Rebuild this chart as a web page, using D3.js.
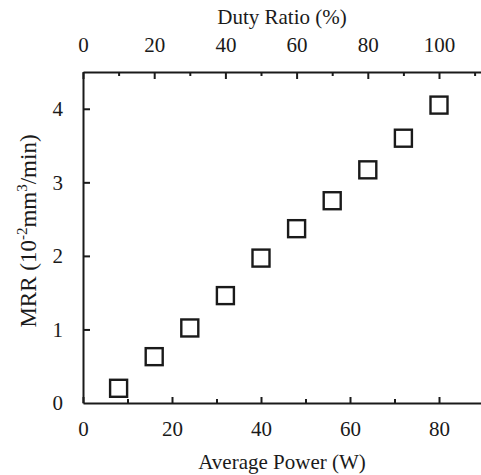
<!DOCTYPE html>
<html><head><meta charset="utf-8">
<script src="https://cdn.jsdelivr.net/npm/d3@7"></script>
<style>
html,body{margin:0;padding:0;background:#fff;}
svg{display:block;}
svg text{font-family:"Liberation Serif","DejaVu Serif",serif !important;}
</style></head>
<body><svg id="c" width="481" height="475"></svg>
<script>
const power = [8, 16, 24, 32, 40, 48, 56, 64, 72, 80];
const mrr = [0.20, 0.63, 1.02, 1.46, 1.97, 2.37, 2.75, 3.17, 3.60, 4.05];
const powerTicks = [0, 20, 40, 60, 80];
const powerMinor = [10, 30, 50, 70, 90];
const dutyTicks = [0, 20, 40, 60, 80, 100];
const dutyMinor = [10, 30, 50, 70, 90, 110];
const mrrTicks = [0, 1, 2, 3, 4];

const ink = "#1a1a1a";
const svg = d3.select("#c");
const L = 83, R = 483.5, T = 72, B = 403;
const x = d3.scaleLinear().domain([0, 90]).range([L, R]);
const xTop = d3.scaleLinear().domain([0, 112.5]).range([L, R]);
const y = d3.scaleLinear().domain([0, 4.5]).range([B, T]);

function style(g){
  g.attr("font-family", null);
  g.selectAll("path.domain").attr("stroke", ink).attr("stroke-width", 2);
  g.selectAll(".tick line").attr("stroke", ink).attr("stroke-width", 2);
  g.selectAll(".tick text").attr("fill", ink).attr("font-size", 21);
}

// bottom
const gb = svg.append("g").attr("transform", `translate(0,${B})`)
  .call(d3.axisBottom(x).tickValues(powerTicks).tickSize(-6).tickSizeOuter(0).tickPadding(18).tickFormat(d3.format("d")));
style(gb);
const gbm = svg.append("g").attr("transform", `translate(0,${B})`)
  .call(d3.axisBottom(x).tickValues(powerMinor).tickSize(-4).tickSizeOuter(0).tickFormat(""));
style(gbm); gbm.select("path.domain").remove();

// top
const gt = svg.append("g").attr("transform", `translate(0,${T})`)
  .call(d3.axisTop(xTop).tickValues(dutyTicks).tickSize(-7).tickSizeOuter(0).tickPadding(20).tickFormat(d3.format("d")));
style(gt);
const gtm = svg.append("g").attr("transform", `translate(0,${T})`)
  .call(d3.axisTop(xTop).tickValues(dutyMinor).tickSize(-4).tickSizeOuter(0).tickFormat(""));
style(gtm); gtm.select("path.domain").remove();

// left
const gl = svg.append("g").attr("transform", `translate(${L},0)`)
  .call(d3.axisLeft(y).tickValues(mrrTicks).tickSize(-7).tickSizeOuter(0).tickPadding(20).tickFormat(d3.format("d")));
style(gl);
gl.selectAll(".tick").filter(d => d === 0).select("line").remove();

// titles
svg.append("text").attr("x", (L + 481) / 2).attr("y", 469).attr("text-anchor", "middle")
  .attr("font-size", 21).attr("fill", ink).text("Average Power (W)");
svg.append("text").attr("x", (L + 481) / 2).attr("y", 24).attr("text-anchor", "middle")
  .attr("font-size", 21).attr("fill", ink).text("Duty Ratio (%)");

const yl = svg.append("text").attr("transform", `translate(36,231) rotate(-90)`)
  .attr("text-anchor", "middle").attr("font-size", 23).attr("fill", ink);
yl.append("tspan").text("MRR (10");
yl.append("tspan").attr("font-size", 15).attr("dy", -9).text("-2");
yl.append("tspan").attr("dy", 9).text("mm");
yl.append("tspan").attr("font-size", 15).attr("dy", -9).text("3");
yl.append("tspan").attr("dy", 9).text("/min)");

// markers
const s = 17;
svg.append("g").selectAll("rect").data(power.map((p, i) => [p, mrr[i]])).join("rect")
  .attr("x", d => x(d[0]) - s / 2).attr("y", d => y(d[1]) - s / 2)
  .attr("width", s).attr("height", s)
  .attr("fill", "none").attr("stroke", ink).attr("stroke-width", 2.4);
</script></body></html>
